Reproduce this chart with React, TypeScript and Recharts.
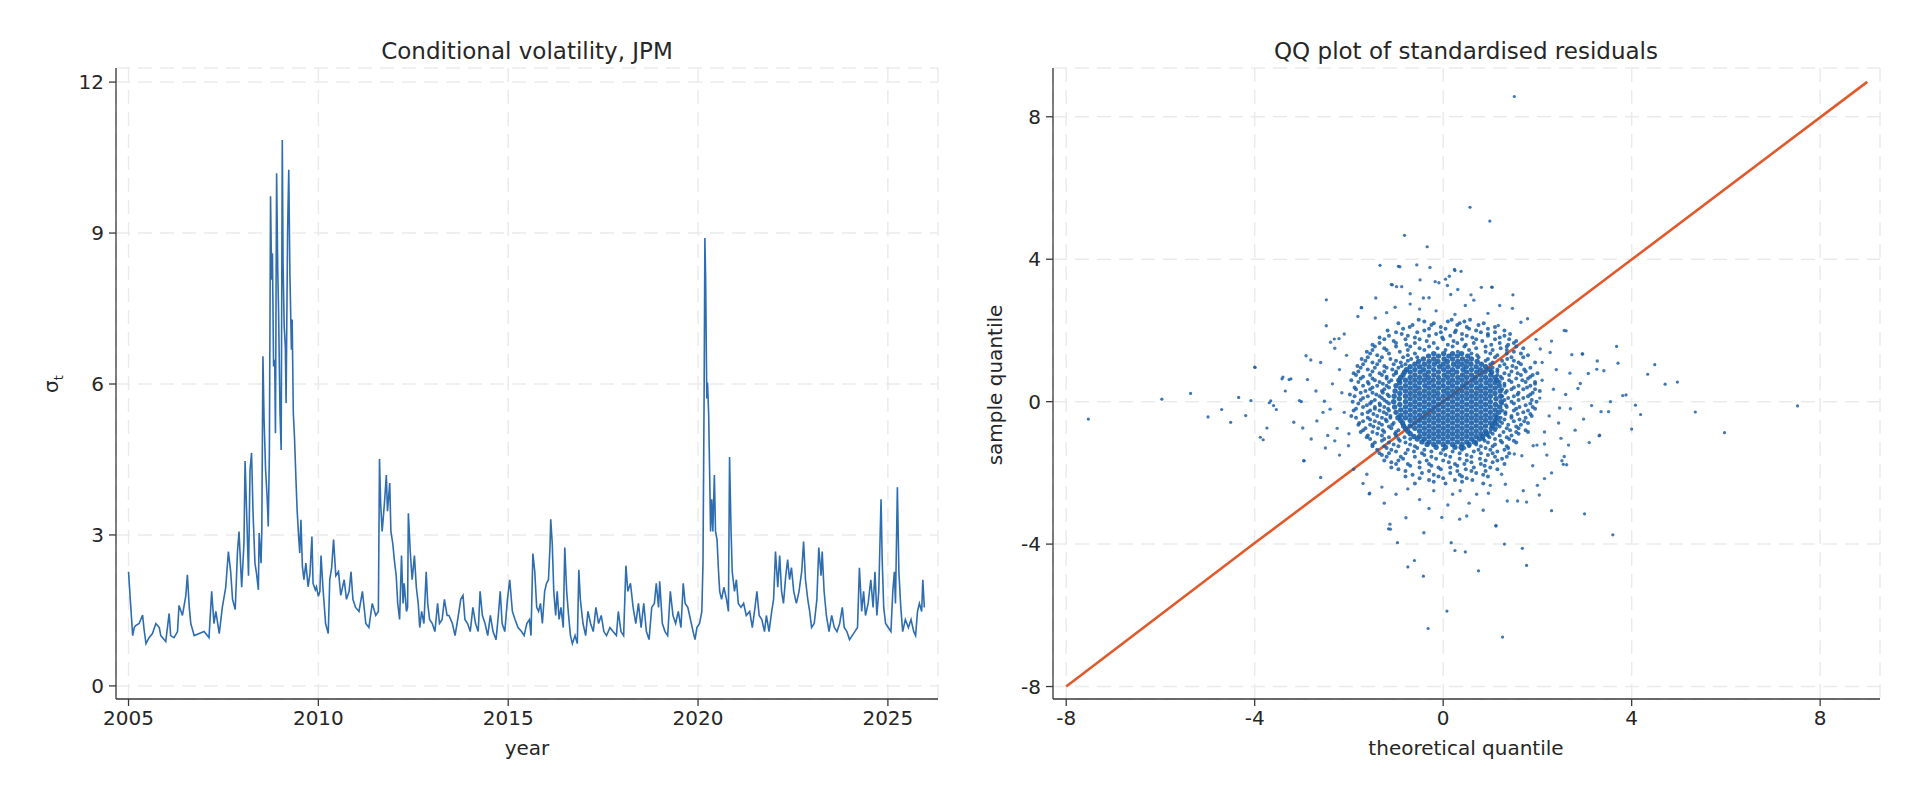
import React from 'react';
import {
  LineChart,
  ScatterChart,
  Line,
  Scatter,
  XAxis,
  YAxis,
  CartesianGrid,
} from 'recharts';

// conditional volatility, [year, sigma]
const vol2005to2010: [number, number][] = [
  [2005.0, 2.27], [2005.06, 1.56], [2005.11, 1.0], [2005.15, 1.16], [2005.19, 1.2], [2005.28, 1.24],
  [2005.37, 1.41], [2005.41, 1.12], [2005.46, 0.84], [2005.54, 0.96], [2005.63, 1.04], [2005.72, 1.24],
  [2005.81, 1.16], [2005.85, 1.0], [2005.98, 0.88], [2006.07, 1.44], [2006.11, 1.0], [2006.2, 0.96],
  [2006.29, 1.08], [2006.33, 1.6], [2006.42, 1.4], [2006.51, 1.8], [2006.55, 2.21], [2006.6, 1.56],
  [2006.64, 1.24], [2006.73, 1.0], [2006.86, 1.04], [2006.99, 1.08], [2007.12, 0.96], [2007.19, 1.88],
  [2007.25, 1.24], [2007.3, 1.48], [2007.39, 1.04], [2007.47, 1.56], [2007.56, 1.96], [2007.63, 2.67],
  [2007.69, 2.27], [2007.74, 1.72], [2007.81, 1.52], [2007.87, 2.67], [2007.91, 3.07], [2007.98, 1.96],
  [2008.04, 2.83], [2008.07, 4.47], [2008.11, 3.47], [2008.16, 2.19], [2008.2, 4.29], [2008.24, 4.63],
  [2008.28, 3.43], [2008.33, 2.44], [2008.37, 2.24], [2008.42, 1.91], [2008.44, 3.04], [2008.49, 2.44],
  [2008.51, 3.07], [2008.54, 6.55], [2008.57, 5.29], [2008.61, 4.29], [2008.65, 3.76], [2008.68, 3.17],
  [2008.71, 4.63], [2008.74, 9.73], [2008.77, 8.07], [2008.79, 8.6], [2008.82, 6.35], [2008.85, 6.48],
  [2008.87, 5.02], [2008.9, 10.19], [2008.93, 8.27], [2008.95, 7.54], [2008.99, 5.42], [2009.02, 4.69],
  [2009.05, 10.85], [2009.07, 8.4], [2009.1, 7.14], [2009.13, 6.75], [2009.15, 5.62], [2009.19, 9.07],
  [2009.22, 10.26], [2009.25, 8.2], [2009.29, 6.68], [2009.31, 7.28], [2009.34, 5.42], [2009.37, 4.96],
  [2009.41, 4.1], [2009.44, 3.5], [2009.48, 2.97], [2009.51, 2.64], [2009.54, 3.3], [2009.58, 2.37],
  [2009.62, 2.11], [2009.67, 2.44], [2009.73, 1.97], [2009.78, 2.24], [2009.83, 2.97], [2009.86, 2.04],
  [2009.92, 1.91], [2009.95, 1.97], [2010.0, 1.78],
];

const vol2010to2015: [number, number][] = [
  [2010.04, 1.88], [2010.07, 2.59], [2010.12, 1.96], [2010.19, 1.24], [2010.26, 1.04], [2010.3, 2.11],
  [2010.35, 2.35], [2010.4, 2.91], [2010.46, 2.19], [2010.53, 2.27], [2010.59, 1.8], [2010.68, 2.11],
  [2010.74, 1.72], [2010.81, 1.88], [2010.86, 2.27], [2010.91, 1.72], [2010.98, 1.56], [2011.07, 1.48],
  [2011.16, 1.88], [2011.25, 1.24], [2011.33, 1.16], [2011.42, 1.64], [2011.51, 1.4], [2011.58, 1.48],
  [2011.61, 4.51], [2011.64, 3.63], [2011.68, 3.07], [2011.74, 3.63], [2011.79, 4.19], [2011.82, 3.47],
  [2011.88, 4.03], [2011.91, 3.07], [2011.96, 2.83], [2012.0, 2.51], [2012.05, 2.19], [2012.09, 1.64],
  [2012.14, 1.32], [2012.19, 2.59], [2012.23, 1.64], [2012.26, 2.04], [2012.32, 1.48], [2012.35, 1.56],
  [2012.37, 3.43], [2012.42, 2.67], [2012.47, 2.11], [2012.53, 2.59], [2012.58, 1.96], [2012.63, 1.64],
  [2012.67, 1.16], [2012.72, 1.48], [2012.78, 1.24], [2012.84, 2.27], [2012.88, 1.64], [2012.93, 1.32],
  [2013.0, 1.24], [2013.07, 1.08], [2013.14, 1.64], [2013.19, 1.24], [2013.26, 1.32], [2013.32, 1.72],
  [2013.39, 1.4], [2013.44, 1.4], [2013.53, 1.24], [2013.6, 1.0], [2013.67, 1.32], [2013.75, 1.72],
  [2013.81, 1.8], [2013.86, 1.32], [2013.93, 1.24], [2014.0, 1.08], [2014.07, 1.56], [2014.14, 1.24],
  [2014.21, 1.08], [2014.26, 1.88], [2014.32, 1.4], [2014.39, 1.24], [2014.46, 1.0], [2014.53, 1.4],
  [2014.6, 1.08], [2014.68, 0.92], [2014.74, 1.4], [2014.79, 1.88], [2014.84, 1.24], [2014.91, 1.08],
  [2014.98, 1.72],
];

const vol2015to2020: [number, number][] = [
  [2015.04, 2.11], [2015.11, 1.48], [2015.18, 1.32], [2015.26, 1.16], [2015.35, 1.08], [2015.42, 1.0],
  [2015.49, 1.24], [2015.56, 1.32], [2015.6, 1.0], [2015.65, 2.63], [2015.7, 2.27], [2015.75, 1.56],
  [2015.8, 1.48], [2015.85, 1.64], [2015.9, 1.24], [2015.96, 1.88], [2016.01, 2.04], [2016.06, 2.11],
  [2016.1, 2.75], [2016.12, 3.31], [2016.16, 2.83], [2016.2, 1.88], [2016.25, 1.4], [2016.29, 1.88],
  [2016.34, 1.32], [2016.39, 1.56], [2016.45, 1.16], [2016.49, 2.75], [2016.54, 1.88], [2016.59, 1.4],
  [2016.64, 1.0], [2016.69, 0.84], [2016.76, 1.0], [2016.82, 0.84], [2016.86, 2.31], [2016.9, 1.72],
  [2016.97, 1.24], [2017.04, 1.0], [2017.1, 1.48], [2017.17, 1.24], [2017.24, 1.08], [2017.31, 1.56],
  [2017.38, 1.24], [2017.45, 1.4], [2017.52, 1.08], [2017.59, 1.0], [2017.68, 1.16], [2017.76, 1.08],
  [2017.85, 1.0], [2017.9, 1.48], [2017.97, 1.08], [2018.04, 1.0], [2018.1, 2.39], [2018.15, 1.88],
  [2018.22, 2.04], [2018.29, 1.56], [2018.36, 1.24], [2018.43, 1.64], [2018.5, 1.16], [2018.57, 1.64],
  [2018.64, 1.08], [2018.71, 0.92], [2018.78, 1.56], [2018.85, 1.64], [2018.9, 2.04], [2018.96, 1.56],
  [2018.99, 2.08], [2019.06, 1.24], [2019.13, 1.08], [2019.2, 1.0], [2019.27, 1.88], [2019.34, 1.4],
  [2019.41, 1.24], [2019.48, 1.48], [2019.55, 1.16], [2019.61, 2.04], [2019.66, 1.64], [2019.73, 1.56],
  [2019.8, 1.32], [2019.87, 1.08], [2019.92, 0.92], [2019.97, 1.16],
];

const vol2020to2026: [number, number][] = [
  [2020.04, 1.24], [2020.1, 1.48], [2020.13, 2.43], [2020.16, 5.79], [2020.18, 8.9], [2020.2, 8.1],
  [2020.23, 5.71], [2020.25, 6.03], [2020.28, 5.39], [2020.31, 4.03], [2020.33, 3.07], [2020.36, 3.71],
  [2020.39, 3.07], [2020.43, 4.19], [2020.46, 3.07], [2020.5, 2.91], [2020.54, 2.27], [2020.57, 1.88],
  [2020.62, 1.72], [2020.68, 1.96], [2020.75, 1.72], [2020.8, 1.48], [2020.83, 4.55], [2020.87, 3.07],
  [2020.9, 2.27], [2020.96, 1.88], [2021.01, 2.11], [2021.06, 1.64], [2021.13, 1.56], [2021.2, 1.64],
  [2021.27, 1.4], [2021.36, 1.48], [2021.43, 1.16], [2021.5, 1.56], [2021.55, 1.88], [2021.61, 1.4],
  [2021.68, 1.32], [2021.75, 1.08], [2021.8, 1.4], [2021.87, 1.08], [2021.94, 1.48], [2021.99, 1.72],
  [2022.04, 2.67], [2022.1, 1.96], [2022.15, 2.59], [2022.2, 1.88], [2022.25, 1.64], [2022.31, 2.19],
  [2022.36, 2.51], [2022.41, 2.11], [2022.46, 2.35], [2022.52, 1.88], [2022.59, 1.64], [2022.66, 1.88],
  [2022.73, 2.27], [2022.78, 2.87], [2022.83, 2.11], [2022.89, 1.72], [2022.94, 1.48], [2022.99, 1.16],
  [2023.06, 1.24], [2023.13, 1.72], [2023.18, 2.75], [2023.24, 2.19], [2023.27, 2.67], [2023.32, 1.88],
  [2023.38, 1.4], [2023.45, 1.08], [2023.52, 1.4], [2023.59, 1.16], [2023.66, 1.08], [2023.73, 1.24],
  [2023.8, 1.56], [2023.85, 1.16], [2023.92, 1.08], [2023.99, 0.92], [2024.06, 1.0], [2024.13, 1.08],
  [2024.2, 1.16], [2024.25, 2.35], [2024.31, 1.48], [2024.36, 1.88], [2024.41, 1.4], [2024.48, 1.64],
  [2024.55, 2.11], [2024.61, 1.56], [2024.66, 2.27], [2024.71, 1.4], [2024.76, 1.88], [2024.82, 3.71],
  [2024.85, 2.51], [2024.89, 1.56], [2024.94, 1.24], [2025.01, 1.16], [2025.08, 1.08], [2025.13, 1.88],
  [2025.17, 2.27], [2025.2, 1.64], [2025.25, 3.95], [2025.29, 2.27], [2025.34, 1.56], [2025.39, 1.08],
  [2025.46, 1.32], [2025.54, 1.16], [2025.61, 1.32], [2025.68, 1.08], [2025.73, 1.0], [2025.78, 1.48],
  [2025.83, 1.64], [2025.89, 1.48], [2025.92, 2.11], [2025.96, 1.56],
];

const yearTicks = [2005, 2010, 2015, 2020, 2025];
const sigmaTicks = [0, 3, 6, 9, 12];
const quantileTicks = [-8, -4, 0, 4, 8];

// QQ reference line
const qqLineTheo = [-8, -4, 0, 4, 9];
const qqLineSample = [-8, -3.97, 0, 3.99, 8.98];

// dense core of the residual cloud: [sample, theoretical quantiles in that row]
const qqCoreRows: [number, number[]][] = [
  [1.35, [-0.2, 0.01, 0.2, 0.39]],
  [1.28, [-0.31, -0.1, 0.12, 0.3, 0.52]],
  [1.2, [-0.42, -0.2, 0.02, 0.2, 0.41, 0.6]],
  [1.13, [-0.52, -0.3, -0.11, 0.09, 0.31, 0.5, 0.72]],
  [1.05, [-0.6, -0.4, -0.19, 0.0, 0.22, 0.4, 0.59, 0.81]],
  [0.98, [-0.7, -0.5, -0.3, -0.08, 0.1, 0.31, 0.49, 0.7, 0.9]],
  [0.9, [-0.78, -0.6, -0.41, -0.2, 0.01, 0.2, 0.42, 0.6, 0.79, 0.98]],
  [0.83, [-0.82, -0.7, -0.49, -0.31, -0.1, 0.11, 0.29, 0.5, 0.71, 0.89, 1.03]],
  [0.75, [-0.85, -0.6, -0.39, -0.2, 0.02, 0.2, 0.41, 0.6, 0.8, 1.01]],
  [0.68, [-0.9, -0.7, -0.5, -0.31, -0.1, 0.1, 0.31, 0.5, 0.69, 0.9, 1.1]],
  [0.6, [-0.94, -0.8, -0.6, -0.4, -0.21, 0.0, 0.2, 0.4, 0.61, 0.8, 1.0, 1.14]],
  [0.53, [-0.92, -0.7, -0.5, -0.3, -0.1, 0.11, 0.3, 0.5, 0.7, 0.91, 1.1]],
  [0.45, [-1.0, -0.8, -0.6, -0.39, -0.2, 0.0, 0.2, 0.41, 0.6, 0.8, 1.0, 1.19]],
  [0.38, [-0.9, -0.7, -0.51, -0.3, -0.1, 0.1, 0.3, 0.5, 0.71, 0.9, 1.1]],
  [0.3, [-1.02, -0.8, -0.6, -0.4, -0.2, 0.01, 0.2, 0.4, 0.6, 0.8, 1.0, 1.21]],
  [0.23, [-0.92, -0.7, -0.5, -0.3, -0.11, 0.1, 0.3, 0.5, 0.7, 0.9, 1.1]],
  [0.15, [-1.04, -0.8, -0.6, -0.4, -0.2, 0.0, 0.2, 0.4, 0.6, 0.8, 1.0, 1.22]],
  [0.08, [-0.93, -0.7, -0.5, -0.3, -0.1, 0.1, 0.3, 0.5, 0.7, 0.9, 1.12]],
  [0.0, [-1.05, -0.8, -0.6, -0.4, -0.2, 0.0, 0.2, 0.4, 0.6, 0.8, 1.0, 1.23]],
  [-0.08, [-0.92, -0.7, -0.5, -0.3, -0.1, 0.1, 0.3, 0.5, 0.7, 0.9, 1.11]],
  [-0.15, [-1.03, -0.8, -0.6, -0.4, -0.2, 0.0, 0.2, 0.4, 0.6, 0.8, 1.0, 1.2]],
  [-0.23, [-0.9, -0.7, -0.5, -0.3, -0.1, 0.1, 0.3, 0.5, 0.7, 0.9, 1.1]],
  [-0.3, [-1.0, -0.8, -0.6, -0.4, -0.2, 0.0, 0.2, 0.4, 0.6, 0.8, 1.0, 1.18]],
  [-0.38, [-0.9, -0.7, -0.5, -0.3, -0.1, 0.1, 0.3, 0.5, 0.7, 0.9, 1.1]],
  [-0.45, [-0.96, -0.8, -0.6, -0.4, -0.2, 0.0, 0.2, 0.4, 0.6, 0.8, 1.0, 1.15]],
  [-0.53, [-0.9, -0.7, -0.5, -0.3, -0.1, 0.1, 0.3, 0.5, 0.7, 0.9, 1.1]],
  [-0.6, [-0.86, -0.6, -0.4, -0.2, 0.0, 0.2, 0.4, 0.6, 0.8, 1.0, 1.1]],
  [-0.68, [-0.84, -0.7, -0.5, -0.3, -0.1, 0.1, 0.3, 0.5, 0.7, 0.9, 1.05]],
  [-0.75, [-0.8, -0.6, -0.4, -0.2, 0.0, 0.2, 0.4, 0.6, 0.8, 1.02]],
  [-0.83, [-0.75, -0.5, -0.3, -0.1, 0.1, 0.3, 0.5, 0.7, 0.9]],
  [-0.9, [-0.7, -0.4, -0.2, 0.0, 0.2, 0.4, 0.6, 0.8, 0.92]],
  [-0.98, [-0.62, -0.5, -0.3, -0.1, 0.1, 0.3, 0.5, 0.7, 0.84]],
  [-1.05, [-0.55, -0.4, -0.2, 0.0, 0.2, 0.4, 0.6, 0.77]],
  [-1.13, [-0.45, -0.3, -0.1, 0.1, 0.3, 0.5, 0.66]],
  [-1.2, [-0.34, -0.2, 0.0, 0.2, 0.4, 0.55]],
  [-1.28, [-0.15, 0.05, 0.25, 0.38]],
];

// medium-density ring around the core, two interleaved sets of rows
const qqMidRows: [number, number[]][] = [
  [2.3, [-0.52, 0.18, 0.57]],
  [2.2, [-0.95, -0.2, 0.35, 0.86]],
  [2.1, [-0.71, -0.05, 0.5, 1.1]],
  [2.0, [-1.18, -0.4, 0.27, 0.7, 1.3]],
  [1.9, [-0.88, -0.15, 0.4, 0.95, 1.42]],
  [1.8, [-1.35, -0.6, -0.02, 0.62, 1.2]],
  [1.7, [-1.05, -0.35, 0.22, 0.83, 1.55]],
  [1.6, [-1.5, -0.78, 0.1, 0.48, 1.02, 1.38]],
  [1.5, [-1.25, -0.5, -0.12, 0.7, 1.22, 1.7]],
  [1.4, [-1.62, -0.92, 0.31, 0.9, 1.5]],
  [1.3, [-1.4, -0.75, 0.72, 1.15, 1.8]],
  [1.2, [-1.73, -1.12, -0.68, 0.95, 1.36]],
  [1.1, [-1.5, -0.9, 1.05, 1.6, 1.95]],
  [1.0, [-1.82, -1.25, -0.88, 1.2, 1.47]],
  [0.9, [-1.6, -1.08, 1.15, 1.72]],
  [0.8, [-1.9, -1.35, -1.0, 1.3, 1.58, 2.0]],
  [0.7, [-1.7, -1.2, 1.22, 1.85]],
  [0.6, [-1.95, -1.45, -1.1, 1.4, 1.68]],
  [0.5, [-1.58, -1.28, 1.3, 1.95]],
  [0.4, [-1.88, -1.5, -1.15, 1.5, 1.78]],
  [0.3, [-1.65, -1.3, 1.35, 2.05]],
  [0.2, [-1.98, -1.42, -1.18, 1.58, 1.85]],
  [0.1, [-1.7, -1.3, 1.38, 1.7]],
  [0.0, [-1.92, -1.52, -1.2, 1.45, 1.98]],
  [-0.1, [-1.62, -1.34, 1.33, 1.75]],
  [-0.2, [-1.85, -1.45, -1.17, 1.55, 1.95]],
  [-0.3, [-1.6, -1.26, 1.32, 1.7]],
  [-0.4, [-1.95, -1.4, -1.12, 1.45, 1.88]],
  [-0.5, [-1.55, -1.22, 1.3, 1.62]],
  [-0.6, [-1.78, -1.36, -1.05, 1.25, 1.8]],
  [-0.7, [-1.48, -1.15, 1.2, 1.55]],
  [-0.8, [-1.7, -1.28, -0.95, 1.1, 1.42, 1.75]],
  [-0.9, [-1.4, -1.02, 1.05, 1.6]],
  [-1.0, [-1.62, -1.15, -0.82, 0.98, 1.35]],
  [-1.1, [-1.3, -0.92, 0.88, 1.22, 1.5]],
  [-1.2, [-1.5, -1.05, -0.7, 0.7, 1.1]],
  [-1.3, [-1.2, -0.55, 0.45, 0.9, 1.38]],
  [-1.4, [-1.0, -0.62, -0.25, 0.2, 0.65, 1.15]],
  [-1.5, [-1.3, -0.4, 0.05, 0.5, 0.95]],
  [-1.6, [-0.85, -0.15, 0.35, 0.78, 1.25]],
  [-1.7, [-1.1, -0.5, 0.12, 0.6, 1.05]],
  [-1.8, [-0.7, -0.25, 0.3, 0.88]],
  [-1.9, [-0.95, -0.05, 0.48, 1.15]],
  [-2.0, [-0.45, 0.15, 0.7]],
  [-2.1, [-0.8, -0.1, 0.4, 0.95]],
  [-2.2, [-0.3, 0.25, 0.62]],
  [-2.3, [-0.6, 0.05, 0.85]],
];

const qqMidRowsB: [number, number[]][] = [
  [2.25, [-0.4, 0.1, 0.45]],
  [2.15, [-0.65, -0.25, 0.3, 0.75]],
  [2.05, [-0.85, -0.3, 0.05, 0.55, 0.95]],
  [1.95, [-1.0, -0.55, -0.05, 0.25, 0.8, 1.1]],
  [1.85, [-1.15, -0.75, -0.3, 0.15, 0.5, 0.95, 1.3]],
  [1.75, [-1.25, -0.8, -0.5, 0.0, 0.4, 0.7, 1.1, 1.4]],
  [1.65, [-1.35, -1.0, -0.6, -0.2, 0.3, 0.65, 1.2, 1.5]],
  [1.55, [-1.45, -1.0, -0.7, -0.3, 0.2, 0.45, 0.9, 1.35, 1.55]],
  [1.45, [-1.5, -1.2, -0.75, -0.4, 0.05, 0.55, 1.05, 1.35]],
  [1.35, [-1.55, -1.15, -0.6, 0.6, 1.0, 1.35, 1.65]],
  [1.25, [-1.6, -1.3, -0.85, -0.55, 0.75, 1.1, 1.45, 1.7]],
  [1.15, [-1.65, -1.35, -1.0, -0.75, 0.9, 1.25, 1.5]],
  [1.05, [-1.7, -1.4, -1.05, -0.8, 1.0, 1.3, 1.65]],
  [0.95, [-1.75, -1.45, -1.2, -0.95, 1.05, 1.35, 1.55, 1.85]],
  [0.85, [-1.8, -1.5, -1.25, -1.0, 1.15, 1.45, 1.75]],
  [0.75, [-1.85, -1.55, -1.3, -1.05, 1.15, 1.4, 1.65, 1.9]],
  [0.65, [-1.75, -1.5, -1.2, 1.25, 1.55, 1.8]],
  [0.55, [-1.8, -1.6, -1.35, -1.15, 1.2, 1.45, 1.75, 1.95]],
  [0.45, [-1.7, -1.4, -1.2, 1.3, 1.6, 1.85]],
  [0.35, [-1.85, -1.55, -1.25, 1.25, 1.45, 1.7, 1.95]],
  [0.25, [-1.75, -1.5, -1.28, 1.32, 1.6, 1.9]],
  [0.15, [-1.88, -1.6, -1.35, -1.15, 1.25, 1.5, 1.8]],
  [0.05, [-1.75, -1.45, -1.25, 1.3, 1.6, 1.88]],
  [-0.05, [-1.8, -1.55, -1.35, -1.15, 1.25, 1.5, 1.85]],
  [-0.15, [-1.7, -1.45, -1.25, 1.35, 1.62, 1.9]],
  [-0.25, [-1.9, -1.55, -1.35, -1.15, 1.25, 1.5, 1.8]],
  [-0.35, [-1.72, -1.48, -1.2, 1.32, 1.58, 1.85]],
  [-0.45, [-1.85, -1.6, -1.3, -1.12, 1.22, 1.45, 1.75]],
  [-0.55, [-1.7, -1.45, -1.2, 1.2, 1.5, 1.72]],
  [-0.65, [-1.8, -1.55, -1.3, -1.08, 1.15, 1.38, 1.65]],
  [-0.75, [-1.65, -1.38, -1.1, 1.12, 1.35, 1.6]],
  [-0.85, [-1.75, -1.5, -1.25, -1.0, 1.0, 1.28, 1.55, 1.8]],
  [-0.95, [-1.6, -1.3, -1.0, 0.95, 1.2, 1.45]],
  [-1.05, [-1.55, -1.25, -0.95, -0.7, 0.85, 1.1, 1.4]],
  [-1.15, [-1.45, -1.15, -0.8, 0.7, 0.95, 1.25, 1.55]],
  [-1.25, [-1.5, -1.25, -0.95, -0.6, 0.55, 0.8, 1.05, 1.35]],
  [-1.35, [-1.4, -1.1, -0.75, -0.4, 0.0, 0.4, 0.75, 1.0, 1.3]],
  [-1.45, [-1.35, -1.15, -0.8, -0.45, -0.05, 0.35, 0.8, 1.05, 1.4]],
  [-1.55, [-1.2, -0.9, -0.6, -0.25, 0.15, 0.6, 1.1, 1.35]],
  [-1.65, [-1.25, -0.95, -0.35, 0.0, 0.5, 0.9, 1.15]],
  [-1.75, [-1.0, -0.75, -0.3, 0.25, 0.45, 0.8, 1.3]],
  [-1.85, [-1.1, -0.5, -0.1, 0.15, 0.65, 1.0]],
  [-1.95, [-0.8, -0.3, 0.3, 0.6, 0.9]],
  [-2.05, [-0.65, -0.2, 0.35, 0.85]],
  [-2.15, [-0.5, 0.0, 0.5]],
  [-2.25, [-0.2, 0.4]],
];

// sparse halo, [theoretical, sample]
const qqHalo: [number, number][] = [
  [-1.43, 2.91], [-1.73, 2.64], [-1.81, 2.39], [-2.48, 2.13], [-1.44, 2.35], [1.79, 2.33], [2.57, 2.0],
  [-2.39, 1.67], [-2.21, 1.77], [-2.91, 1.29], [-2.81, 1.17], [-3.05, 0.03], [-2.88, 0.62], [-3.17, -0.58],
  [-2.98, -0.74], [-2.96, -1.66], [-2.6, -2.13], [-2.8, -1.05], [-2.68, -0.54], [-2.4, -0.21], [-2.52, 0.01],
  [-2.01, -1.24], [-1.56, -2.57], [-1.62, -2.04], [-0.79, -3.26], [0.36, -2.5], [0.71, -2.6], [0.96, -2.57],
  [1.36, -2.79], [1.58, -2.79], [1.77, -2.82], [1.7, -2.5], [2.04, -2.62], [2.15, -2.16], [1.24, -2.04],
  [1.32, -2.32], [1.51, -1.47], [1.67, -1.52], [1.91, -1.24], [1.99, -1.22], [2.15, -1.19], [2.5, -1.03],
  [2.66, -1.22], [2.52, -1.66], [2.57, -1.54], [2.62, -1.77], [3.1, -1.15], [3.31, -0.96], [2.98, -0.49],
  [3.15, -0.11], [3.35, -0.28], [3.51, -0.28], [3.55, 0.0], [3.81, 0.17], [3.27, 1.14], [3.41, 0.87],
  [3.08, 0.79], [2.91, 0.51], [2.86, 0.37], [2.69, 0.8], [2.96, 1.34], [2.73, 1.32], [2.47, -0.18],
  [2.34, 0.35], [2.27, 1.38], [2.06, 1.48], [1.97, 1.75], [1.65, 2.23], [1.17, 2.14],
  [-0.92, 3.79], [-0.56, 3.84], [-0.28, 3.77], [0.24, 3.71], [0.13, 3.52], [-0.49, 3.42], [-1.1, 3.29],
  [-0.99, 3.23], [-0.88, 3.23], [-0.17, 3.37], [-0.09, 3.34], [0.09, 3.26], [0.81, 3.21], [1.04, 3.21],
  [-0.7, 3.03], [-0.42, 2.91], [-0.3, 2.92], [0.16, 3.01], [0.31, 3.15], [0.59, 3.0], [-0.7, 2.74],
  [-1.02, 2.65], [0.47, 2.7], [1.47, 2.62], [-0.15, 2.55], [0.95, 2.48], [-1.2, 2.5], [0.65, 2.85],
  [1.2, 2.7], [-0.5, 2.6], [0.25, 2.45],
  [-1.13, -3.44], [-1.12, -3.58], [-0.03, -3.25], [0.35, -3.3], [0.5, -3.21], [1.12, -3.49], [-0.41, -3.68],
  [-1.0, -2.6], [-0.5, -2.75], [-0.2, -2.5], [0.1, -2.9], [0.55, -2.85], [-0.75, -2.45], [-1.3, -2.4],
  [-1.9, -1.9], [-2.2, -1.5], [-1.25, -2.85], [0.85, -3.05], [-0.3, -3.0], [1.0, -2.35], [0.2, -2.6],
  [-1.7, -2.3], [-2.3, -1.1], [-2.5, -1.3], [2.3, -2.0], [1.9, -1.8], [2.0, -2.35],
  [-2.2, 0.9], [-2.35, 0.5], [-2.6, 1.1], [-2.1, -0.3], [-2.25, -0.75], [-2.45, -0.95], [-2.15, 0.25],
  [-2.7, 0.3], [-2.05, 1.3], [-2.55, -0.3], [-2.3, 1.5], [-2.0, -0.9], [-2.1, 1.9],
  [2.1, 0.6], [2.25, -0.4], [2.4, 0.9], [2.15, -0.85], [2.6, 0.2], [2.05, 0.1], [2.3, 1.7], [2.45, -0.6],
  [2.8, -0.8], [2.1, 1.1], [2.7, -0.2], [2.2, -1.5],
];

// far outliers, [theoretical, sample]
const qqOutliers: [number, number][] = [
  [1.51, 8.57], [0.57, 5.46], [0.99, 5.07], [-0.82, 4.67], [-0.34, 4.35], [-7.53, -0.49], [-5.97, 0.07],
  [-5.36, 0.23], [-4.99, -0.43], [-4.7, -0.22], [-4.51, -0.58], [-4.34, 0.12], [-4.0, 0.97], [-3.88, -1.0],
  [-3.82, -1.07], [-4.19, -0.39], [7.52, -0.12], [5.97, -0.87], [5.35, -0.29], [4.97, 0.55], [4.71, 0.49],
  [4.49, 1.04], [4.34, 0.77], [4.19, -0.36], [4.0, -0.77], [4.08, -0.1], [3.88, 0.19], [3.68, 1.55],
  [3.71, 1.08], [3.6, -3.74], [3.0, -3.15], [2.3, -3.06], [1.77, -4.6], [1.68, -4.12], [1.3, -4.0],
  [1.12, -3.48], [0.75, -4.75], [0.47, -4.22], [0.25, -4.18], [0.17, -3.96], [-0.42, -4.9], [-0.61, -4.46],
  [-0.75, -4.64], [-0.97, -3.96], [-1.16, -3.57], [0.08, -5.88], [-0.32, -6.37], [1.26, -6.61],
  [-1.57, -2.59], [-2.95, -1.66], [-2.31, 1.76], [-2.48, 2.86], [-1.74, 2.64], [-1.34, 3.83], [-0.95, 3.8],
  [-1.08, 3.28], [0.05, 3.44], [0.25, 3.68], [0.38, 3.66], [1.03, 3.22], [1.48, 3.0], [2.61, 1.99],
  [2.95, 1.34], [3.26, 0.91], [2.55, -1.76], [3.32, -0.94], [-3.4, 0.69], [-3.27, 0.62], [-3.01, 0.0],
  [-3.69, -0.03], [-4.08, 0.03], [-3.66, 0.02], [-3.6, -0.11], [-3.54, -0.22], [-3.74, -0.74], [-3.42, 0.64],
  [-3.23, 0.64], [-3.35, 0.3], [-3.99, 0.96],
];

const FONT = '"DejaVu Sans", sans-serif';
const INK = '#262626';
const SPINE = '#3a3a3a';
const GRID = '#ebebeb';
const DOT_BLUE = '#1a5ea6';
const QQ_ORANGE = '#e05a2b';

const volData = [...vol2005to2010, ...vol2010to2015, ...vol2015to2020, ...vol2020to2026].map(
  ([year, sigma]) => ({ year, sigma })
);
const qqLineData = qqLineTheo.map((x, i) => ({ x, y: qqLineSample[i] }));
const rowsToPoints = (rows: [number, number[]][]) =>
  rows.flatMap(([y, xs]) => xs.map((x) => ({ x, y })));
const pairsToPoints = (pairs: [number, number][]) => pairs.map(([x, y]) => ({ x, y }));
const coreData = rowsToPoints(qqCoreRows);
const midData = [...rowsToPoints(qqMidRows), ...rowsToPoints(qqMidRowsB)];
const haloData = pairsToPoints(qqHalo);
const outlierData = pairsToPoints(qqOutliers);

const tickStyle = { fill: INK, fontSize: 20, fontFamily: FONT };
const axisStroke = { stroke: SPINE, strokeWidth: 1.3 };

const QQ_MARGIN = { top: 68, right: 40, bottom: 67, left: 0 };
const QQ_X_DOMAIN: [number, number] = [-8.28, 9.27];
const QQ_Y_DOMAIN: [number, number] = [-8.35, 9.37];

const dot = (r: number, opacity: number) => (props: any) =>
  <circle cx={props.cx} cy={props.cy} r={r} fill={DOT_BLUE} fillOpacity={opacity} />;

const textBase: React.CSSProperties = {
  position: 'absolute',
  fontFamily: FONT,
  color: INK,
  whiteSpace: 'nowrap',
  lineHeight: 1,
};

function Title({ x, children }: { x: number; children: React.ReactNode }) {
  return (
    <div style={{ ...textBase, left: x, top: 51, fontSize: 23, transform: 'translate(-50%, -50%)' }}>
      {children}
    </div>
  );
}

function XLabel({ x, children }: { x: number; children: React.ReactNode }) {
  return (
    <div style={{ ...textBase, left: x, top: 738, fontSize: 20, transform: 'translateX(-50%)' }}>
      {children}
    </div>
  );
}

function YLabel({ x, y, children }: { x: number; y: number; children: React.ReactNode }) {
  return (
    <div
      style={{
        ...textBase,
        left: x,
        top: y,
        fontSize: 20,
        transform: 'translate(-50%, -50%) rotate(-90deg)',
      }}
    >
      {children}
    </div>
  );
}

export default function App() {
  return (
    <div style={{ position: 'absolute', left: 0, top: 0, width: 1920, height: 806, background: '#fff' }}>
      <div style={{ position: 'absolute', left: 0, top: 0 }}>
        <LineChart width={960} height={806} data={volData} margin={{ top: 68, right: 22, bottom: 67, left: 0 }}>
          <CartesianGrid strokeDasharray="14 8" stroke={GRID} strokeWidth={1.5} />
          <XAxis
            type="number"
            dataKey="year"
            domain={[2004.67, 2026.32]}
            ticks={yearTicks}
            interval={0}
            allowDataOverflow
            height={40}
            tick={tickStyle}
            tickSize={7}
            tickMargin={5}
            axisLine={axisStroke}
            tickLine={axisStroke}
          />
          <YAxis
            type="number"
            domain={[-0.26, 12.28]}
            ticks={sigmaTicks}
            interval={0}
            allowDataOverflow
            width={116}
            tick={tickStyle}
            tickSize={7}
            tickMargin={5}
            axisLine={axisStroke}
            tickLine={axisStroke}
          />
          <Line
            type="linear"
            dataKey="sigma"
            stroke="#2e6db0"
            strokeWidth={1.6}
            dot={false}
            isAnimationActive={false}
          />
        </LineChart>
      </div>

      {/* QQ plot, bottom layer: grid, axes and the reference line */}
      <div style={{ position: 'absolute', left: 960, top: 0 }}>
        <LineChart width={960} height={806} data={qqLineData} margin={QQ_MARGIN}>
          <CartesianGrid strokeDasharray="14 8" stroke={GRID} strokeWidth={1.5} />
          <XAxis
            type="number"
            dataKey="x"
            domain={QQ_X_DOMAIN}
            ticks={quantileTicks}
            interval={0}
            allowDataOverflow
            height={40}
            tick={tickStyle}
            tickSize={7}
            tickMargin={5}
            axisLine={axisStroke}
            tickLine={axisStroke}
          />
          <YAxis
            type="number"
            domain={QQ_Y_DOMAIN}
            ticks={quantileTicks}
            interval={0}
            allowDataOverflow
            width={93}
            tick={tickStyle}
            tickSize={7}
            tickMargin={5}
            axisLine={axisStroke}
            tickLine={axisStroke}
          />
          <Line
            type="linear"
            dataKey="y"
            stroke={QQ_ORANGE}
            strokeWidth={2.6}
            dot={false}
            isAnimationActive={false}
          />
        </LineChart>
      </div>

      {/* QQ plot, top layer: the residual points, drawn over the line */}
      <div style={{ position: 'absolute', left: 960, top: 0 }}>
        <ScatterChart width={960} height={806} margin={QQ_MARGIN}>
          <XAxis
            type="number"
            dataKey="x"
            domain={QQ_X_DOMAIN}
            allowDataOverflow
            height={40}
            tick={false}
            tickLine={false}
            axisLine={false}
          />
          <YAxis
            type="number"
            dataKey="y"
            domain={QQ_Y_DOMAIN}
            allowDataOverflow
            width={93}
            tick={false}
            tickLine={false}
            axisLine={false}
          />
          <Scatter data={outlierData} shape={dot(1.6, 0.85)} isAnimationActive={false} />
          <Scatter data={haloData} shape={dot(1.7, 0.8)} isAnimationActive={false} />
          <Scatter data={midData} shape={dot(2.0, 0.85)} isAnimationActive={false} />
          <Scatter data={coreData} shape={dot(2.7, 0.9)} isAnimationActive={false} />
        </ScatterChart>
      </div>

      <Title x={527}>Conditional volatility, JPM</Title>
      <Title x={1466}>QQ plot of standardised residuals</Title>
      <XLabel x={527}>year</XLabel>
      <XLabel x={1466}>theoretical quantile</XLabel>
      <YLabel x={53} y={384}>
        σ<sub style={{ fontSize: 13 }}>t</sub>
      </YLabel>
      <YLabel x={995} y={385}>sample quantile</YLabel>
    </div>
  );
}
